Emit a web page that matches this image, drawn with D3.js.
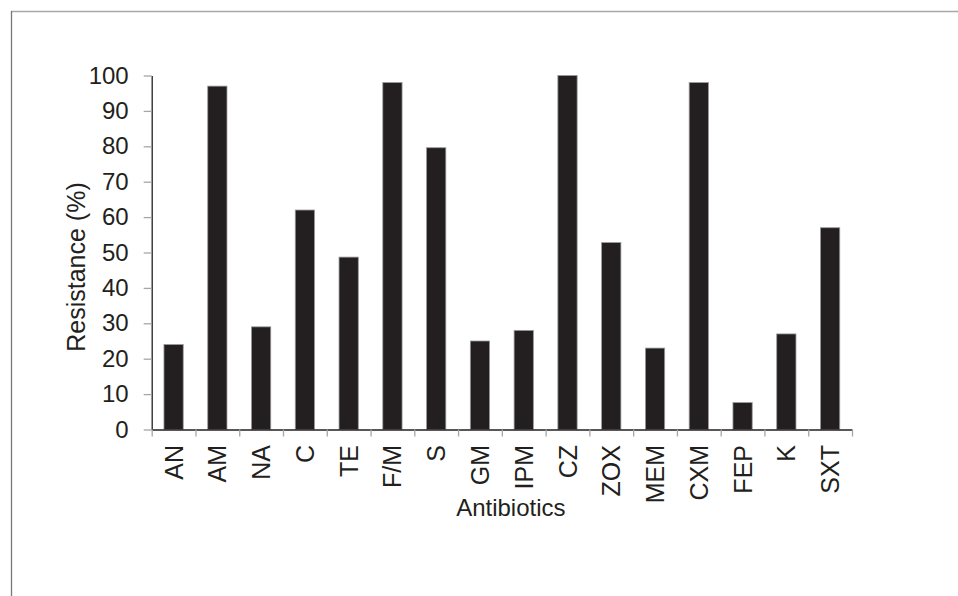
<!DOCTYPE html>
<html>
<head>
<meta charset="utf-8">
<script src="https://cdn.jsdelivr.net/npm/d3@7"></script>
<style>
  body { margin: 0; background: #fff; }
  svg { display: block; font-family: "Liberation Sans", Arial, sans-serif; }
</style>
</head>
<body>
<svg id="chart" width="958" height="596"></svg>
<script>
const antibiotics = ['AN', 'AM', 'NA', 'C', 'TE', 'F/M', 'S', 'GM', 'IPM', 'CZ',
  'ZOX', 'MEM', 'CXM', 'FEP', 'K', 'SXT'];
const resistance = [24, 97, 29, 62, 48.7, 98, 79.6, 25, 28, 100,
  52.8, 23, 98, 7.6, 27, 57];
const yTicks = [0, 10, 20, 30, 40, 50, 60, 70, 80, 90, 100];

const BarColor = '#231f20';
const TickColor = '#a6a6a6';
const FontSize = 24;
const LabelFontSize = 25;

const svg = d3.select('#chart');
const plot = { left: 151.7, right: 852, top: 75.5, bottom: 429.5 };

// frame lines round the figure
svg.append('line')
  .attr('x1', 11).attr('x2', 958).attr('y1', 11.5).attr('y2', 11.5)
  .attr('stroke', '#a8a8a8').attr('stroke-width', 1.3);
svg.append('line')
  .attr('x1', 11.5).attr('x2', 11.5).attr('y1', 11).attr('y2', 596)
  .attr('stroke', '#787878').attr('stroke-width', 1.3);

const x = d3.scaleBand()
  .domain(antibiotics)
  .range([plot.left, plot.right])
  .paddingInner(0.56)
  .paddingOuter(0.28);
const xEdges = d3.scaleLinear()
  .domain([0, antibiotics.length])
  .range([plot.left, plot.right]);
const y = d3.scaleLinear()
  .domain([0, 100])
  .range([plot.bottom, plot.top]);

// bars
svg.append('g')
  .selectAll('rect')
  .data(antibiotics)
  .enter().append('rect')
    .attr('x', d => x(d))
    .attr('width', x.bandwidth())
    .attr('y', (d, i) => y(resistance[i]))
    .attr('height', (d, i) => y(0) - y(resistance[i]))
    .attr('fill', BarColor)
    .attr('stroke', '#9a9a9a')
    .attr('stroke-width', 0.8);

// y axis
const yAxis = svg.append('g')
  .attr('transform', `translate(${plot.left},0)`)
  .call(d3.axisLeft(y).tickValues(yTicks).tickSize(8).tickPadding(15).tickSizeOuter(0));
yAxis.select('.domain').attr('stroke', BarColor).attr('stroke-width', 1.3);
yAxis.selectAll('.tick line').attr('stroke', TickColor).attr('stroke-width', 1.3);
yAxis.selectAll('.tick text')
  .attr('font-size', FontSize)
  .attr('font-family', '"Liberation Sans", Arial, sans-serif')
  .attr('fill', '#231f20');

// x axis: tick marks on category edges
const xAxis = svg.append('g')
  .attr('transform', `translate(0,${plot.bottom})`)
  .call(d3.axisBottom(xEdges)
    .tickValues(d3.range(antibiotics.length + 1))
    .tickSize(7).tickSizeOuter(0).tickFormat(''));
xAxis.select('.domain').attr('stroke', BarColor).attr('stroke-width', 1.3);
xAxis.selectAll('.tick line').attr('stroke', TickColor).attr('stroke-width', 1.3);

// category labels, rotated
const xLabels = svg.append('g')
  .attr('transform', `translate(0,${plot.bottom})`)
  .call(d3.axisBottom(x).tickSize(0).tickPadding(0));
xLabels.select('.domain').remove();
xLabels.selectAll('.tick text')
  .attr('font-size', LabelFontSize)
  .attr('font-family', '"Liberation Sans", Arial, sans-serif')
  .attr('fill', '#231f20')
  .attr('text-anchor', 'end')
  .attr('transform', 'rotate(-90)')
  .attr('x', -15.5)
  .attr('y', 0)
  .attr('dy', '0.36em');

// axis titles
svg.append('text')
  .attr('x', (plot.left + plot.right) / 2 + 9)
  .attr('y', 516)
  .attr('text-anchor', 'middle')
  .attr('font-size', FontSize)
  .attr('fill', '#231f20')
  .text('Antibiotics');
svg.append('text')
  .attr('transform', 'translate(84.5,267) rotate(-90)')
  .attr('text-anchor', 'middle')
  .attr('font-size', LabelFontSize)
  .attr('fill', '#231f20')
  .text('Resistance (%)');
</script>
</body>
</html>
